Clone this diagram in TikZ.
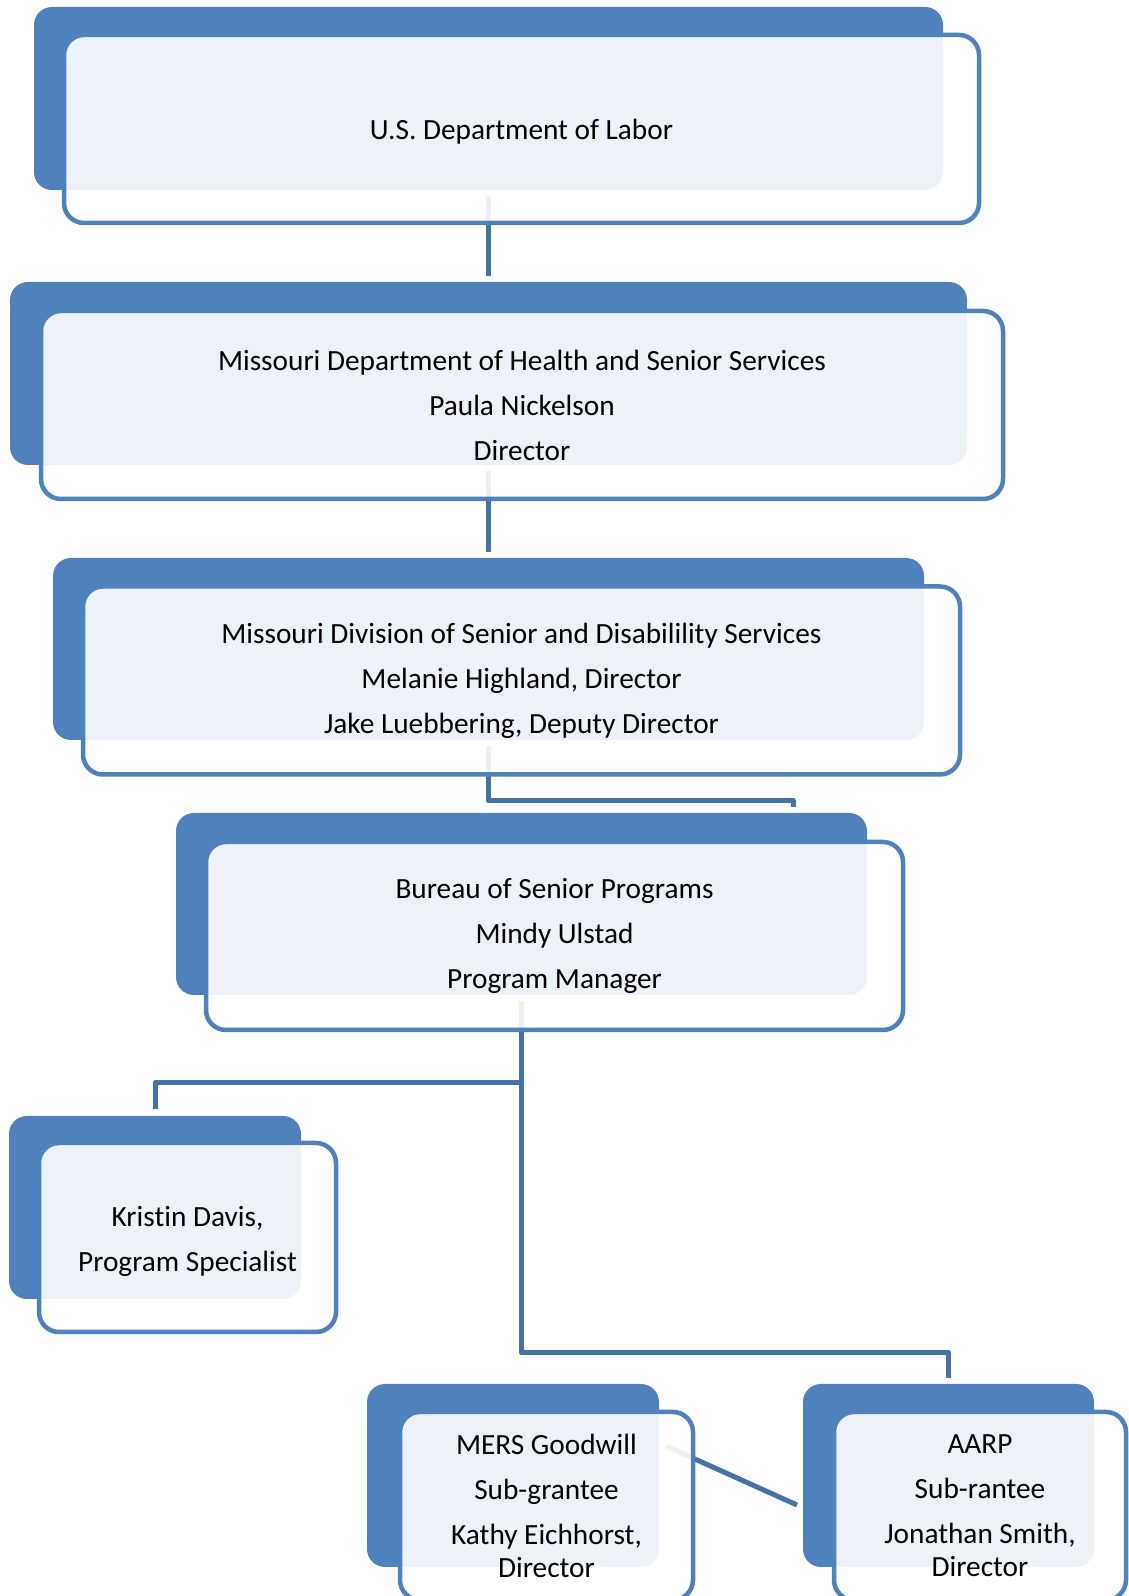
\documentclass[tikz,border=0pt]{standalone}
\usepackage{fontspec}
\setmainfont{Carlito}[Ligatures=NoCommon]
\usetikzlibrary{calc}
\definecolor{boxblue}{HTML}{4F81BD}
\definecolor{linkblue}{HTML}{4672AA}
\tikzset{
  backbox/.style={fill=boxblue, draw=none, rounded corners=18pt, inner sep=0pt, outer sep=0pt},
  frontbox/.style={draw=boxblue, line width=4.5pt, fill=white, fill opacity=0.9, text opacity=1,
    rounded corners=20pt, inner sep=0pt, outer sep=0pt, align=center,
    font=\fontsize{29.3}{33}\selectfont},
  boxtext/.style={inner sep=0pt, align=center, font=\fontsize{29.3}{33}\selectfont},
  link/.style={draw=linkblue, line width=5pt, line join=round}
}
\begin{document}
\begin{tikzpicture}[x=1pt,y=1pt]
\fill[white] (0,0) rectangle (1129,1596);
\useasboundingbox (0,0) rectangle (1129,1596);
% back boxes
\node[backbox, minimum width=909pt, minimum height=183pt] (b1) at (488.5,1497.5) {};
\node[backbox, minimum width=957pt, minimum height=183pt] (b2) at (488.5,1222.5) {};
\node[backbox, minimum width=871pt, minimum height=182pt] (b3) at (488.5,947) {};
\node[backbox, minimum width=691pt, minimum height=182pt] (b4) at (521.5,692) {};
\node[backbox, minimum width=292pt, minimum height=183pt] (b5) at (155,388.5) {};
\node[backbox, minimum width=292pt, minimum height=183pt] (b6) at (513,120.5) {};
\node[backbox, minimum width=291pt, minimum height=183pt] (b7) at (948.5,120.5) {};
% connectors
\draw[link] ($(b1.south)+(0,-6)$) -- ($(b2.north)+(0,6)$);
\draw[link] ($(b2.south)+(0,-6)$) -- ($(b3.north)+(0,6)$);
\coordinate (j3) at (793,795);
\draw[link] ($(b3.south)+(0,-6)$) |- (j3) -- ($(b4.north -| j3)+(0,6)$);
\coordinate (j4) at (521.5,513);
\coordinate (j5) at (521.5,243);
\draw[link] ($(b4.south)+(0,-6)$) -- (j5) -| ($(b7.north)+(0,6)$);
\draw[link] (j4) -| ($(b5.north)+(0,7)$);
\coordinate (d1) at (666,150);
\coordinate (d2) at (797,91);
\draw[link] (d1) -- (d2);
% front boxes with text
\node[frontbox, minimum width=915pt, minimum height=188pt] (f1) at (521.5,1467) {};
\node[boxtext] (t1) at ($(f1.center)+(0,-3)$) {U.S. Department of Labor};
\node[frontbox, minimum width=962pt, minimum height=188pt] (f2) at (522,1191)
  {Missouri Department of Health and Senior Services\\[12pt] Paula Nickelson\\[12pt] Director};
\node[frontbox, minimum width=877pt, minimum height=188pt] (f3) at (521.5,915.5)
  {Missouri Division of Senior and Disabilility Services\\[12pt] Melanie Highland, Director\\[12pt] Jake Luebbering, Deputy Director};
\node[frontbox, minimum width=697pt, minimum height=188pt] (f4) at (554.5,660)
  {Bureau of Senior Programs\\[12pt] Mindy Ulstad\\[12pt] Program Manager};
\node[frontbox, minimum width=297pt, minimum height=189pt] (f5) at (187.5,358.5) {};
\node[boxtext] (t5) at ($(f5.center)+(0,-4)$) {Kristin Davis,\\[12pt] Program Specialist};
\node[frontbox, minimum width=293pt, minimum height=188pt] (f6) at (546.5,90)
  {MERS Goodwill\\[12pt] Sub-grantee\\[12pt] Kathy Eichhorst,\\ Director};
\node[frontbox, minimum width=292pt, minimum height=188pt] (f7) at (980,90)
  {AARP\\[12pt] Sub-rantee\\[12pt] Jonathan Smith,\\ Director};
\end{tikzpicture}
\end{document}
